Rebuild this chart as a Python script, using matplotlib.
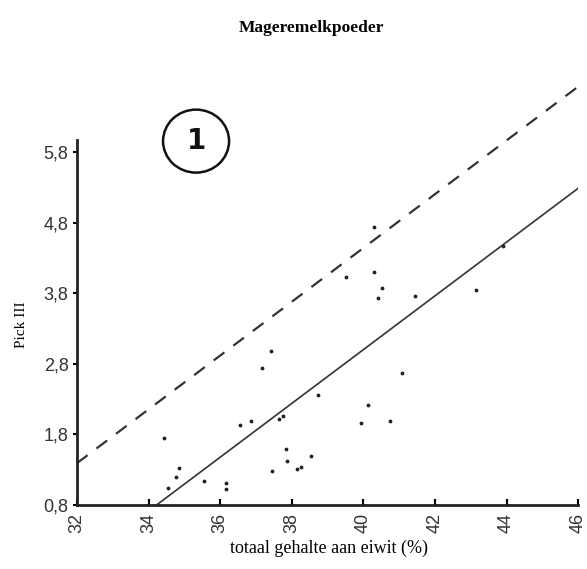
import numpy as np
import matplotlib
matplotlib.use("Agg")
import matplotlib.pyplot as plt
from matplotlib.patches import Ellipse

# eiwitgehalte (%) en Pick III
eiwit = [34.43, 34.54, 34.77, 34.85, 35.55, 36.16, 36.16, 36.55, 36.86, 37.18,
         37.42, 37.45, 37.64, 37.75, 37.84, 37.87, 38.15, 38.26, 38.54, 38.73,
         39.51, 39.93, 40.13, 40.30, 40.30, 40.41, 40.52, 40.74, 41.08, 41.44,
         43.15, 43.90]
pick3 = [1.75, 1.04, 1.20, 1.32, 1.14, 1.11, 1.03, 1.93, 1.99, 2.74,
         2.98, 1.28, 2.02, 2.06, 1.59, 1.42, 1.31, 1.34, 1.49, 2.36,
         4.03, 1.96, 2.22, 4.74, 4.10, 3.73, 3.87, 1.99, 2.67, 3.76,
         3.85, 4.47]

# regressielijn en bovengrens (zelfde helling)
helling = 0.381
snijpunt_lijn = -12.24
snijpunt_grens = -10.80

xticks = [32, 34, 36, 38, 40, 42, 44, 46]
yticks = [0.8, 1.8, 2.8, 3.8, 4.8, 5.8]

fig = plt.figure(figsize=(5.87, 5.69), dpi=100)
ax = fig.add_axes([0.131, 0.1125, 0.854, 0.6415])

ax.plot(eiwit, pick3, '.', ls="none", color="#222222", markersize=3.5)

xs = np.array([32, 46])
ax.plot(xs, snijpunt_lijn + helling * xs, color="#333333", linewidth=1.2)
ax.plot(xs, snijpunt_grens + helling * xs, color="#333333", linewidth=1.6,
        dashes=(6, 5), clip_on=False)

ax.set_xlim(32, 46)
ax.set_ylim(0.8, 5.97)
ax.set_xticks(xticks)
ax.set_yticks(yticks)
ax.set_xticklabels([str(t) for t in xticks], rotation=90,
                   fontsize=13, color="#333333", family="Liberation Sans")
ax.set_yticklabels([f"{t:.1f}".replace(".", ",") for t in yticks],
                   fontsize=13, color="#333333", family="Liberation Sans")
ax.tick_params(axis="x", direction="in", length=4, width=1.5, pad=6)
ax.tick_params(axis="y", direction="out", length=3, width=1.5, pad=3)

for s in ["top", "right"]:
    ax.spines[s].set_visible(False)
for s in ["left", "bottom"]:
    ax.spines[s].set_linewidth(2)
    ax.spines[s].set_color("#222222")

fig.text(0.53, 0.951, "Mageremelkpoeder", ha="center", va="center",
         fontsize=12.5, fontweight="bold", family="Liberation Serif")
fig.text(0.56, 0.037, "totaal gehalte aan eiwit (%)", ha="center", va="center",
         fontsize=13, family="Liberation Serif")
fig.text(0.036, 0.429, "Pick III", ha="center", va="center", rotation=90,
         fontsize=11, family="Liberation Serif")

# omcirkeld nummer
fig.patches.append(Ellipse((0.334, 0.752), 66 / 587, 63 / 569,
                           transform=fig.transFigure, fill=False,
                           linewidth=1.8, edgecolor="#111111"))
fig.text(0.334, 0.752, "1", ha="center", va="center", fontsize=20,
         fontweight="bold", family="DejaVu Sans", color="#111111")

fig.savefig("out.png", dpi=100)
